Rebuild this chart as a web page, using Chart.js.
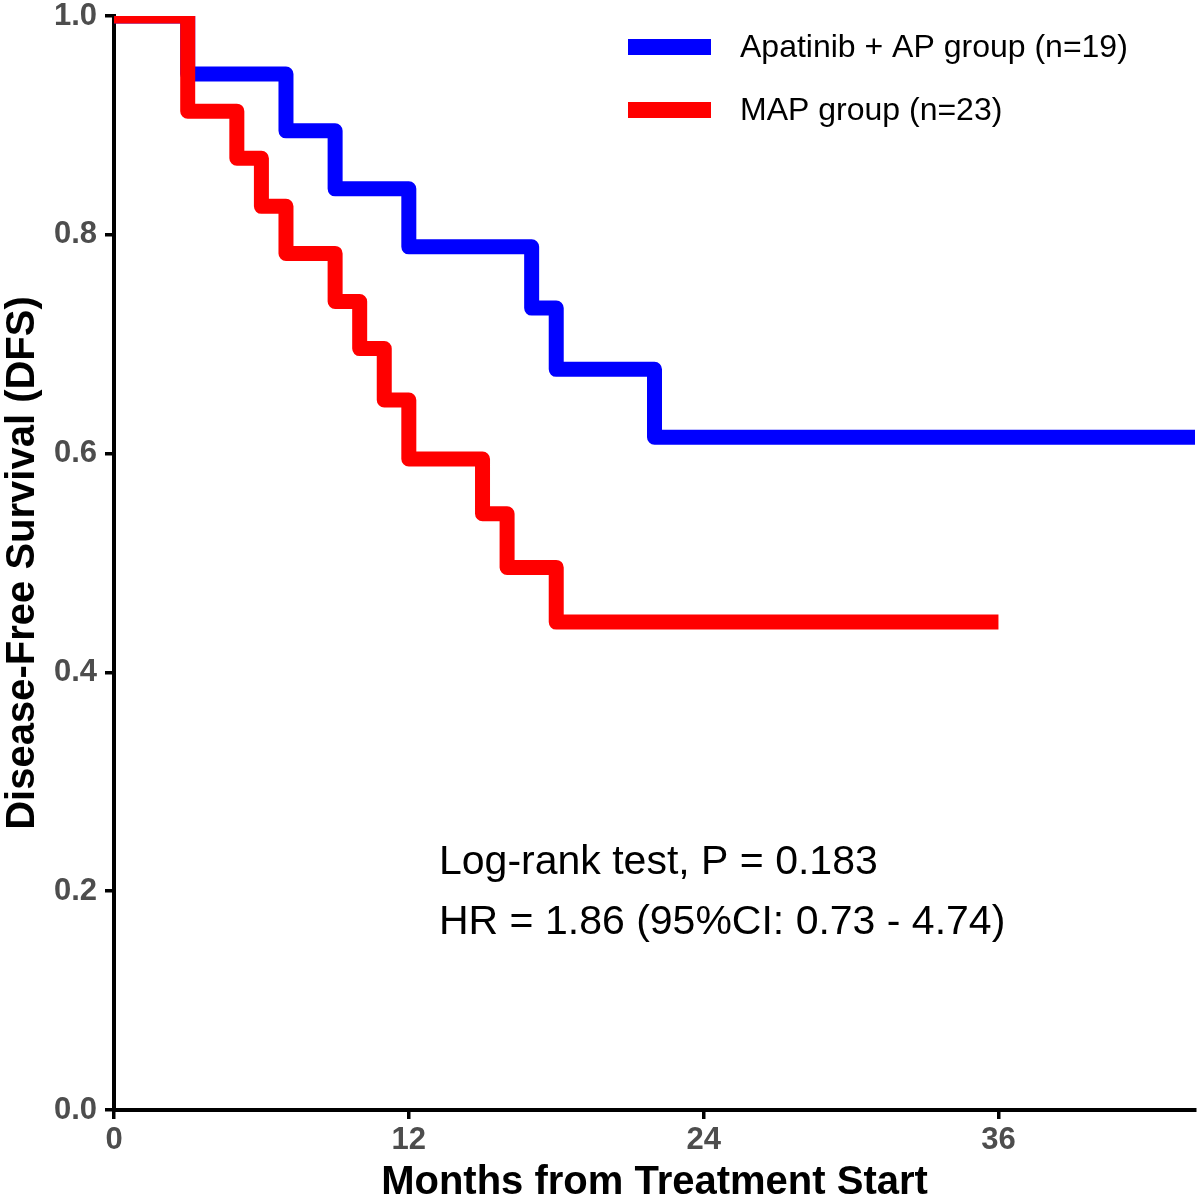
<!DOCTYPE html>
<html>
<head>
<meta charset="utf-8">
<script src="https://cdn.jsdelivr.net/npm/chart.js@4.4.1/dist/chart.umd.min.js"></script>
<style>
  html, body { margin: 0; padding: 0; background: #fff; }
  #wrap { width: 1200px; height: 1203px; }
</style>
</head>
<body>
<div id="wrap"><canvas id="km" width="1200" height="1203"></canvas></div>
<script>
// ── Data ───────────────────────────────────────────────────────────────────
const groupNames   = ['Apatinib + AP group (n=19)', 'MAP group (n=23)'];
const groupColors  = ['#0000FF', '#FF0000'];

const monthsApat   = [0, 3, 7, 9, 12, 17, 18, 22, 44];
const dfsApat      = [1.0, 0.947, 0.895, 0.842, 0.789, 0.733, 0.677, 0.615, 0.615];

const monthsMap    = [0, 3, 5, 6, 7, 9, 10, 11, 12, 15, 16, 18, 36];
const dfsMap       = [1.0, 0.913, 0.870, 0.826, 0.783, 0.739, 0.696, 0.649, 0.595, 0.545, 0.496, 0.446, 0.446];

const xTickVals    = [0, 12, 24, 36];
const yTickVals    = [0, 0.2, 0.4, 0.6, 0.8, 1.0];
const statLines    = ['Log-rank test, P = 0.183', 'HR = 1.86 (95%CI: 0.73 - 4.74)'];

const FONT = '"Liberation Sans", Arial, sans-serif';

// ── Helpers ────────────────────────────────────────────────────────────────
function toPoints(xs, ys) {
  return xs.map((x, i) => ({ x, y: ys[i] }));
}

function kmDataset(label, xs, ys, color, order) {
  return {
    label,
    data: toPoints(xs, ys),
    borderColor: color,
    backgroundColor: color,
    borderWidth: 15,
    borderJoinStyle: 'round',
    borderCapStyle: 'butt',
    stepped: 'before',   // horizontal first, then drop (KM step)
    pointRadius: 0,
    fill: false,
    clip: 0,
    order,
  };
}

// legend + stats text drawn inside the plot panel
const overlay = {
  id: 'overlay',
  afterDatasetsDraw(chart) {
    const ctx = chart.ctx;
    ctx.save();
    ctx.textBaseline = 'middle';
    ctx.textAlign = 'left';
    groupNames.forEach((name, i) => {
      const y = 47 + i * 63;
      ctx.fillStyle = groupColors[i];
      ctx.fillRect(628, y - 8, 83, 16);
      ctx.fillStyle = '#000';
      ctx.font = `32px ${FONT}`;
      ctx.fillText(name, 740, y + 1);
    });
    ctx.font = `41px ${FONT}`;
    statLines.forEach((line, i) => {
      ctx.fillText(line, 439, 863 + i * 60);
    });
    ctx.restore();
  }
};

const tickFont = { family: FONT, size: 31, weight: 'bold', lineHeight: 1 };

// ── Chart ──────────────────────────────────────────────────────────────────
new Chart(document.getElementById('km').getContext('2d'), {
  type: 'line',
  data: {
    datasets: [
      kmDataset(groupNames[0], monthsApat, dfsApat, groupColors[0], 1),
      kmDataset(groupNames[1], monthsMap,  dfsMap,  groupColors[1], 0),
    ]
  },
  options: {
    responsive: false,
    devicePixelRatio: 1,
    animation: false,
    layout: { padding: { top: 16, right: 5, left: 0, bottom: 0 } },
    plugins: {
      legend: { display: false },
      tooltip: { enabled: false },
    },
    scales: {
      x: {
        type: 'linear',
        min: 0,
        max: 44,
        afterBuildTicks: s => { s.ticks = xTickVals.map(v => ({ value: v })); },
        afterFit: s => { s.height = 93; s.paddingLeft = 0; s.paddingRight = 0; },
        ticks: {
          font: tickFont,
          color: '#4d4d4d',
          padding: 6,
          maxRotation: 0,
        },
        grid: { drawOnChartArea: false, drawTicks: true, tickLength: 9, color: '#000', lineWidth: 3.5 },
        border: { display: true, color: '#000', width: 4 },
        title: {
          display: true,
          text: 'Months from Treatment Start',
          color: '#000',
          font: { family: FONT, size: 40, weight: 'bold', lineHeight: 1 },
          padding: { top: 0, bottom: 0 },
        },
      },
      y: {
        type: 'linear',
        min: 0,
        max: 1,
        afterBuildTicks: s => { s.ticks = yTickVals.map(v => ({ value: v })); },
        afterFit: s => { s.width = 114; s.paddingTop = 0; s.paddingBottom = 0; },
        ticks: {
          font: tickFont,
          color: '#4d4d4d',
          padding: 8,
          callback: v => v.toFixed(1),
        },
        grid: { drawOnChartArea: false, drawTicks: true, tickLength: 9, color: '#000', lineWidth: 3.5 },
        border: { display: true, color: '#000', width: 4 },
        title: {
          display: true,
          text: 'Disease-Free Survival (DFS)',
          color: '#000',
          font: { family: FONT, size: 40, weight: 'bold', lineHeight: 1 },
          padding: { top: 3, bottom: 0 },
        },
      },
    },
  },
  plugins: [overlay],
});
</script>
</body>
</html>
